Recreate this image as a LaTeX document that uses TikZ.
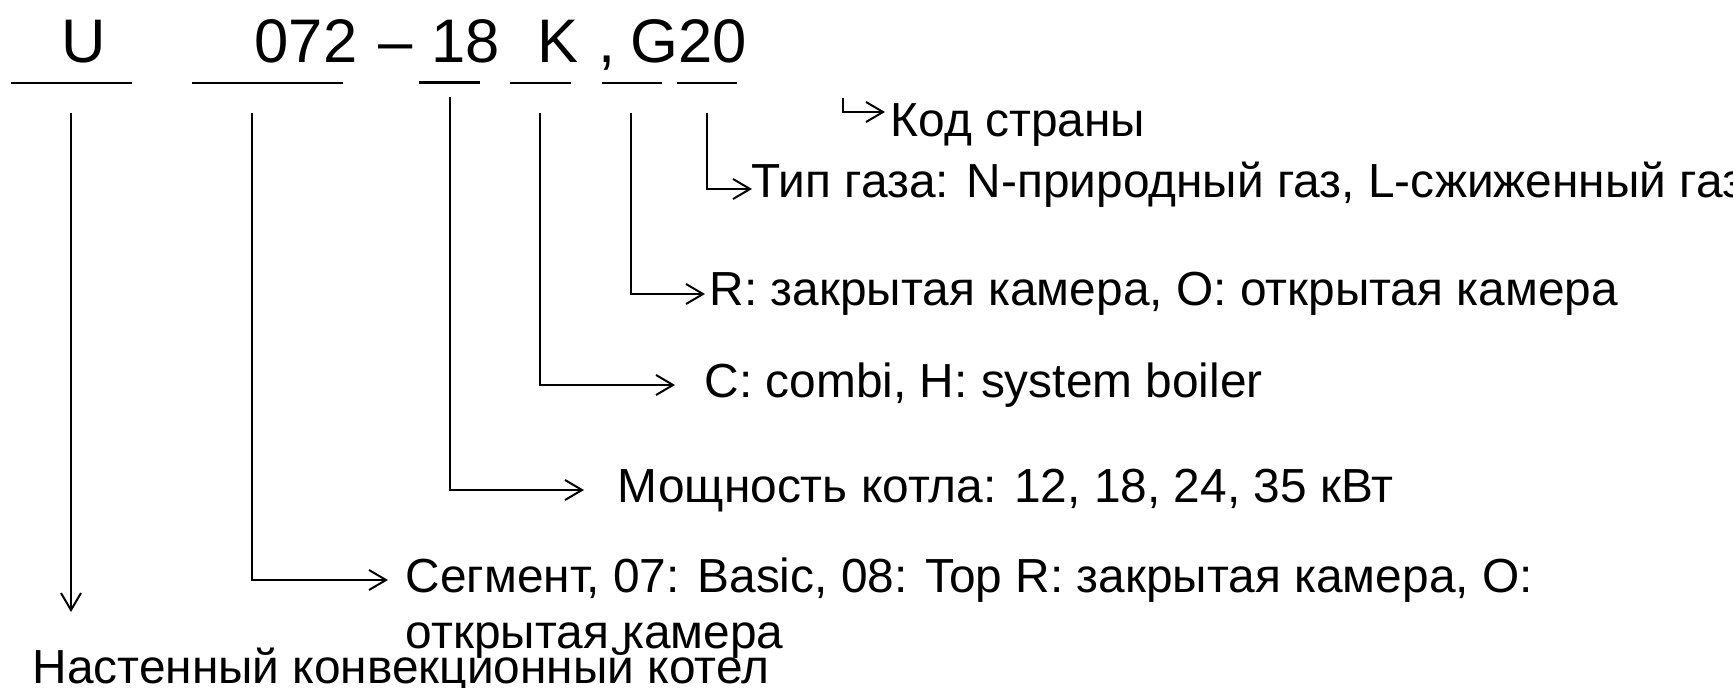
\documentclass[tikz,border=0pt]{standalone}
\usepackage{fontspec}
\setmainfont{Liberation Sans}
\usetikzlibrary{positioning,calc,arrows.meta}

\begin{document}
\begin{tikzpicture}[x=0.01cm,y=-0.01cm]
  \useasboundingbox (0,0) rectangle (1733,688);
  \begin{scope}[
    every node/.style={
      inner sep=0pt,
      anchor=base west,
    },
    codepart/.style={
      font=\fontsize{17.5pt}{21pt}\selectfont,
    },
    legend/.style={
      font=\fontsize{13.6pt}{15.9pt}\selectfont,
      align=left,
    },
    ]
    % code
    \node [codepart] (cU) at (61,63) {U};
    \node [codepart] (c072) at (254,63) {072};
    \node [codepart] (cdash) at (378,63) {--};
    \node [codepart] (c18) at (431,63) {18};
    \node [codepart] (cK) at (537,63) {K};
    \node [codepart] (ccomma) at (598,63) {,};
    \node [codepart] (cG20) at (630,63) {G20};

    % legend
    \node [legend] (kod) at (890,137) {Код страны};
    \node [legend] (gas) at (751,198) {Тип газа: N-природный газ, L-сжиженный газ};
    \node [legend] (kam) at (709,305) {R: закрытая камера, O: открытая камера};
    \node [legend] (typ) at (704,397) {C: combi, H: system boiler};
    \node [legend] (pow) at (617,502) {Мощность котла: 12, 18, 24, 35 кВт};
    % last line on the base
    \node [legend] (seg) at (405,648)
      {Сегмент, 07: Basic, 08: Top R: закрытая камера, O:\\открытая камера};
    \node [legend] (nast) at (32,683) {Настенный конвекционный котел};
  \end{scope}
  \begin{scope}[
    line width=0.02cm,
    codeline/.style={
      line width=0.02cm,
    },
    myarrow/.style={
      ->,
      >={Straight Barb[length=0.17cm,width=0.2cm]},
    },
    ]
    % underlines
    \draw [codeline] (11,83) -- (132,83);
    \draw [codeline] (192,83) -- (343,83);
    \draw [codeline,line width=0.03cm] (419,83) -- (480,83);
    \draw [codeline] (510,83) -- (571,83);
    \draw [codeline] (602,83) -- (662,83);
    \draw [codeline] (677,83) -- (737,83);

    % starts
    \coordinate (aU) at (71,113);
    \coordinate (a072) at (252,113);
    \coordinate (a18) at (450,97);
    \coordinate (aK) at (540,113);
    \coordinate (acomma) at (631,113);
    \coordinate (aG20) at (707,113);
    \coordinate (akod) at (843,98);

    % pointers
    \draw [myarrow] (akod) |- ($(kod.base west)+(-5,-25)$);
    \draw [myarrow] (aG20) |- ($(gas.base west)+(1,-9)$);
    \draw [myarrow] (acomma) |- ($(kam.base west)+(-4,-11)$);
    \draw [myarrow] (aK) |- ($(typ.base west)+(-29,-12)$);
    \draw [myarrow] (a18) |- ($(pow.base west)+(-33,-12)$);
    \draw [myarrow] (a072) |- ($(seg.base west)+(-17,-68)$);
    \draw [myarrow] (aU) -- ($(aU |- nast.base)+(0,-71)$);
  \end{scope}
\end{tikzpicture}
\end{document}
